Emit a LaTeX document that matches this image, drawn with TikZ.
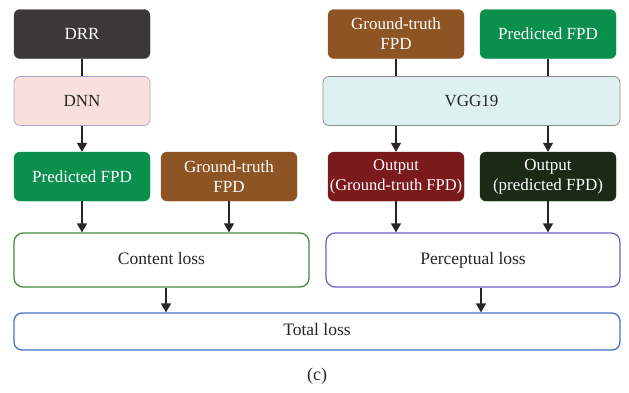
\documentclass[tikz,border=0pt]{standalone}
\usepackage{fontspec}
\setmainfont{Liberation Serif}
\usetikzlibrary{arrows.meta}
\definecolor{drrc}{HTML}{3B3838}
\definecolor{dnnf}{HTML}{F8E1DD}
\definecolor{dnnd}{HTML}{AFA2D4}
\definecolor{predc}{HTML}{0B8F4D}
\definecolor{gtc}{HTML}{8E5524}
\definecolor{vggf}{HTML}{DFF0F0}
\definecolor{vggd}{HTML}{8C8C8C}
\definecolor{ogtc}{HTML}{7B1A1D}
\definecolor{opc}{HTML}{1B2A15}
\definecolor{contc}{HTML}{3E8A3E}
\definecolor{percc}{HTML}{7060C0}
\definecolor{totc}{HTML}{4472C4}
\definecolor{arrc}{HTML}{2A2525}
\tikzset{
  box/.style={rounded corners=6pt, minimum width=136pt, minimum height=49pt, align=center, inner sep=1pt,
    font=\fontsize{17}{20}\selectfont},
  darkbox/.style={box, fill=#1, draw=#1, text=white},
  lightbox/.style={box, text=black!85},
  lossbox/.style={rounded corners=9pt, draw=#1, line width=1.3pt, fill=white, minimum height=54pt,
    font=\fontsize{17.5}{20}\selectfont, text=black!85, text height=12pt, text depth=4pt},
  link/.style={draw=arrc, line width=1.6pt},
  arr/.style={link, -{Triangle[length=9pt,width=10pt]}}
}
\begin{document}
\begin{tikzpicture}[x=1pt,y=-1pt]
\useasboundingbox (0,0) rectangle (629,392);
% left column
\node[darkbox=drrc] (drr) at (82,34) {DRR};
\node[lightbox, fill=dnnf, draw=dnnd, line width=0.8pt] (dnn) at (82,101) {DNN};
\node[darkbox=predc] (predL) at (82,176.5) {Predicted FPD};
\node[darkbox=gtc] (gtL) at (229,176.5) {Ground-truth\\FPD};
% right column
\node[darkbox=gtc] (gtR) at (396,34) {Ground-truth\\FPD};
\node[darkbox=predc] (predR) at (548,34) {Predicted FPD};
\node[lightbox, fill=vggf, draw=vggd, line width=0.8pt, minimum width=297pt] (vgg) at (471.5,101) {VGG19};
\node[darkbox=ogtc, font=\fontsize{16.5}{20}\selectfont] (outGT) at (396,176.5) {Output\\(Ground-truth FPD)};
\node[darkbox=opc] (outP) at (548,176.5) {Output\\(predicted FPD)};
% losses
\node[lossbox=contc, minimum width=295pt] (cont) at (161.5,260) {Content loss};
\node[lossbox=percc, minimum width=294pt] (perc) at (473,260) {Perceptual loss};
\node[lossbox=totc, minimum width=606pt, minimum height=37pt, rounded corners=8pt] (tot) at (317,331.5) {Total loss};
\node[font=\fontsize{18}{20}\selectfont, text=black!85] (cap) at (317,376) {(c)};
% connectors
\draw[link] (drr.south) -- (dnn.north);
\draw[arr] (dnn.south) -- (predL.north);
\draw[link] (gtR.south) -- (gtR.south |- vgg.north);
\draw[link] (predR.south) -- (predR.south |- vgg.north);
\draw[arr] (outGT.north |- vgg.south) -- (outGT.north);
\draw[arr] (outP.north |- vgg.south) -- (outP.north);
\draw[arr] (predL.south) -- (predL.south |- cont.north);
\draw[arr] (gtL.south) -- (gtL.south |- cont.north);
\draw[arr] (outGT.south) -- (outGT.south |- perc.north);
\draw[arr] (outP.south) -- (outP.south |- perc.north);
\coordinate (c1) at ([xshift=4.5pt]cont.south);
\coordinate (c2) at ([xshift=8pt]perc.south);
\draw[arr] (c1) -- (c1 |- tot.north);
\draw[arr] (c2) -- (c2 |- tot.north);
\end{tikzpicture}
\end{document}
